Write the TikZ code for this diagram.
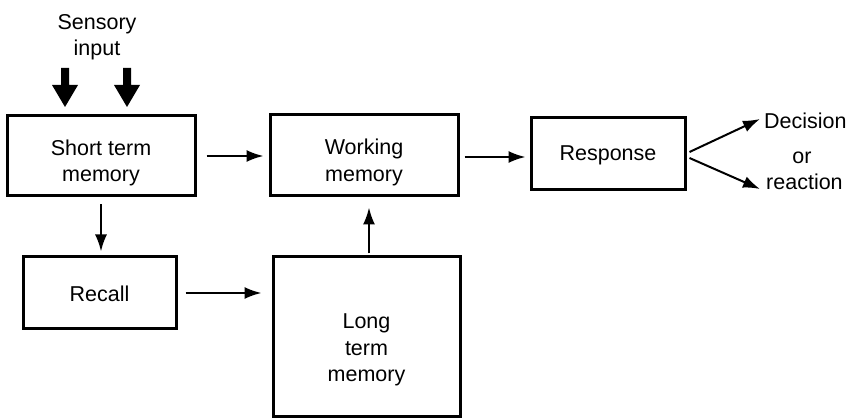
\documentclass[tikz,border=0pt]{standalone}
\usepackage{fontspec}
\setmainfont{Liberation Sans}
\usetikzlibrary{arrows.meta}
\begin{document}
\begin{tikzpicture}[x=1pt,y=-1pt,
  txt/.style={font=\fontsize{21.5}{26.5}\selectfont, align=center, inner sep=0pt},
  box/.style={draw, line width=3pt, rectangle, inner sep=0pt},
  arr/.style={line width=2pt, -{Latex[length=17pt,width=12pt]}},
  fat/.style={fill=black}]
\useasboundingbox (0,0) rectangle (852,419);

% boxes
\node[box, minimum width=188pt, minimum height=80pt] (stm) at (101,156) {};
\node[box, minimum width=188pt, minimum height=81pt] (wm) at (364,155.5) {};
\node[box, minimum width=154pt, minimum height=72pt] (resp) at (608,154) {};
\node[box, minimum width=153pt, minimum height=72pt] (recall) at (99.5,293) {};
\node[box, minimum width=187pt, minimum height=160pt] (ltm) at (366.5,337) {};

% box texts (set a little below the box centres)
\node[txt] (stmtxt) at ([yshift=-7pt]stm.center) {Short term\\memory};
\node[txt] (wmtxt) at ([yshift=-7pt]wm.center) {Working\\memory};
\node[txt] (resptxt) at ([yshift=-1pt]resp.center) {Response};
\node[txt] (recalltxt) at ([yshift=-1pt]recall.center) {Recall};
\node[txt] (ltmtxt) at ([yshift=-13pt]ltm.center) {Long\\term\\memory};

% labels
\node[txt] (sens) at (97,37) {Sensory\\input};
\node[txt, anchor=west] (dec) at (764,121) {Decision};
\node[txt] (or) at (802,158) {or};
\node[txt, anchor=west] (rea) at (766,182) {reaction};

% bold input arrows
\foreach \cx/\nm in {65/a, 127/b} {
  \coordinate (in\nm) at (\cx,107);
  \fill[fat] (\cx-4,68) -- (\cx+4,68) -- (\cx+4,85) -- (\cx+13,85)
    -- (in\nm) -- (\cx-13,85) -- (\cx-4,85) -- cycle;
}

% connectors
\draw[arr, shorten <=10pt, shorten >=5pt] (stm.east) -- (stm.east -| wm.west);
\draw[arr, shorten <=5pt, shorten >=4pt] ([yshift=-1.5pt]wm.east) -- ([yshift=-1.5pt]wm.east -| resp.west);
\draw[arr, shorten <=7pt, shorten >=4pt] (stm.south) -- (stm.south |- recall.north);
\draw[arr, shorten <=8pt, shorten >=10pt] (recall.east) -- (recall.east -| ltm.west);
\draw[arr, shorten <=2pt, shorten >=10pt] ([xshift=2.5pt]ltm.north) -- ([xshift=2.5pt]ltm.north |- wm.south);

\coordinate (d1) at (760,119);
\coordinate (r1) at (760,189);
\draw[arr] ([xshift=3pt,yshift=2pt]resp.east) -- (d1);
\draw[arr] ([xshift=3pt,yshift=-4pt]resp.east) -- (r1);
\end{tikzpicture}
\end{document}
